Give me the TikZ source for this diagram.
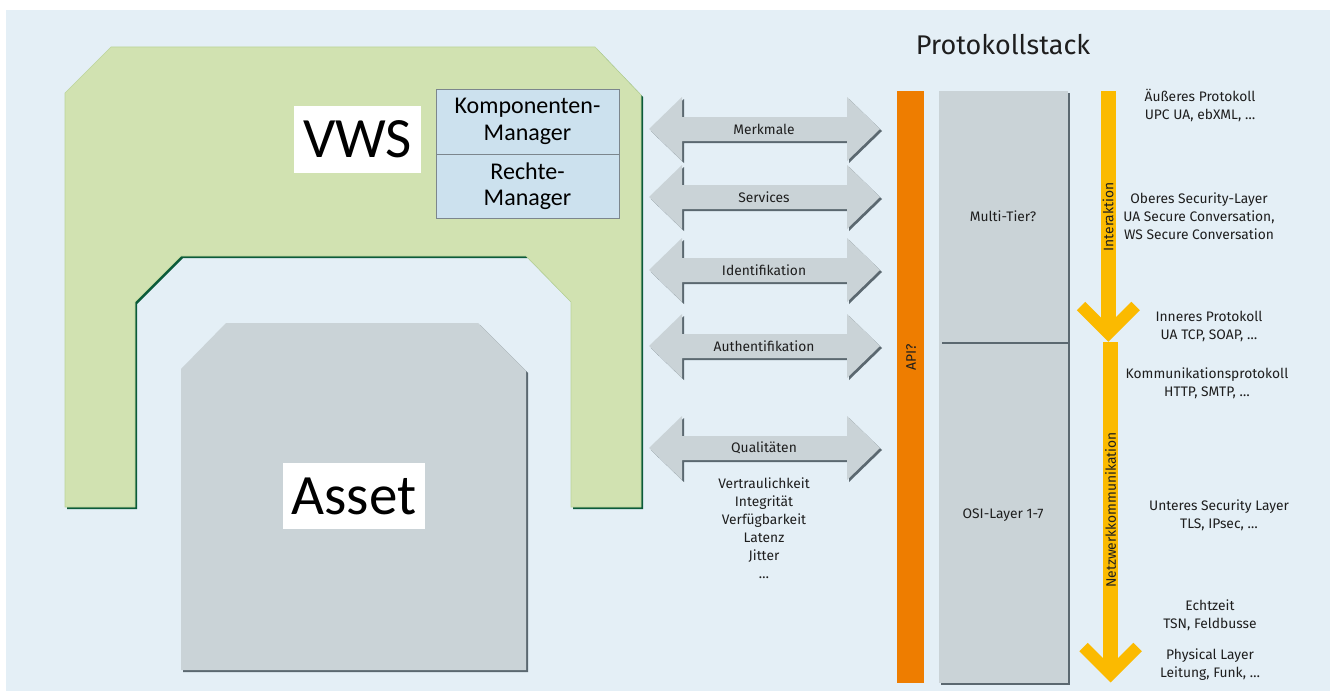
\documentclass[tikz,border=0pt]{standalone}
\usepackage{fontspec}
\setmainfont{Fira Sans}
\newfontfamily\calib{Carlito}
\definecolor{bgblue}{HTML}{E4EFF6}
\definecolor{lgreen}{HTML}{D1E2B1}
\definecolor{egreen}{HTML}{BCD59A}
\definecolor{dgreen}{HTML}{0B5B3A}
\definecolor{lgrey}{HTML}{CAD3D7}
\definecolor{dgrey}{HTML}{5B6870}
\definecolor{orng}{HTML}{EE7D00}
\definecolor{ylw}{HTML}{FBBA00}
\definecolor{boxblue}{HTML}{CCE1EE}
\definecolor{txt}{HTML}{1E1E1E}
\tikzset{
  lbl/.style={text=txt, inner sep=0pt, align=center, font=\fontsize{13.8}{18}\selectfont},
  bigtitle/.style={fill=white, text=black, inner sep=0pt, font=\calib\fontsize{57}{60}\selectfont},
  mgrbox/.style={draw=dgrey!80, line width=0.8pt, fill=boxblue, minimum width=183pt, inner sep=0pt, align=center, text=black, font=\calib\fontsize{24}{26.5}\selectfont},
  ychev/.style={ylw, line width=12pt, miter limit=10},
  ybar/.style={ylw, line width=15.5pt},
}
\newcommand{\dblarr}[3]{%
  \fill[dgrey, shift={(2,2)}] (649,#2) -- (682,#2-32) -- (682,#2-12) -- (847,#2-12) -- (847,#2-32) -- (880,#2) -- (847,#2+32) -- (847,#2+12) -- (682,#2+12) -- (682,#2+32) -- cycle;
  \fill[lgrey] (649,#2) -- (682,#2-32) -- (682,#2-12) -- (847,#2-12) -- (847,#2-32) -- (880,#2) -- (847,#2+32) -- (847,#2+12) -- (682,#2+12) -- (682,#2+32) -- cycle;
  \node[lbl] (#1) at (764,#2) {#3};
}
\begin{document}
\begin{tikzpicture}[x=1pt,y=-1pt]
\useasboundingbox (0,0) rectangle (1337,693);
\fill[white] (0,0) rectangle (1337,693);
\fill[bgblue] (6,10) rectangle (1330,691);

% VWS U-shape
\fill[dgreen, shift={(2,2)}] (111,47) -- (595,47) -- (641,95) -- (641,507) -- (571,507) -- (571,302) -- (526,256) -- (181,256) -- (135,302) -- (135,507) -- (65,507) -- (65,93) -- cycle;
\filldraw[fill=lgreen, draw=egreen, line width=0.6pt] (111,47) -- (595,47) -- (641,95) -- (641,507) -- (571,507) -- (571,302) -- (526,256) -- (181,256) -- (135,302) -- (135,507) -- (65,507) -- (65,93) -- cycle;

% Asset shape
\fill[dgrey, shift={(2,2)}] (226,323) -- (478,323) -- (526,371) -- (526,670) -- (181,670) -- (181,369) -- cycle;
\fill[lgrey] (226,323) -- (478,323) -- (526,371) -- (526,670) -- (181,670) -- (181,369) -- cycle;

\node[bigtitle, minimum width=127pt, minimum height=67pt] (vws) at (357.5,139.5) {VWS};
\node[bigtitle, minimum width=142pt, minimum height=66pt] (asset) at (354,496) {Asset};

\node[mgrbox, minimum height=65pt] (komp) at (527.5,121.5) {Komponenten-\\Manager};
\node[mgrbox, minimum height=64pt] (recht) at (527.5,186) {Rechte-\\Manager};

% double arrows
\dblarr{merk}{129}{Merkmale}
\dblarr{serv}{197}{Services}
\dblarr{ident}{270}{Identifikation}
\dblarr{auth}{346}{Authentifikation}
\dblarr{qual}{448}{Qualit\"aten}
\node[lbl] (quallist) at (764,528) {Vertraulichkeit\\Integrit\"at\\Verf\"ugbarkeit\\Latenz\\Jitter\\…};

% Protokollstack
\node[text=txt, inner sep=0pt, font=\fontsize{27}{30}\selectfont] (title) at (1003,45) {Protokollstack};
\fill[orng] (897,91) rectangle (924,683);
\node[lbl, rotate=90] (api) at (911,357) {API?};
\fill[dgrey] (941,93) rectangle (1070,685);
\fill[lgrey] (939,91) rectangle (1068,683);
\draw[dgrey, line width=2pt] (942,343) -- (1068,343);
\node[lbl] (multi) at (1003,216) {Multi-Tier?};
\node[lbl] (osi) at (1003,515) {OSI-Layer 1-7};

% yellow arrows
\draw[ybar] (1108.3,91) -- (1108.3,333);
\draw[ychev] (1081,306) -- (1108.3,333.3) -- (1135.6,306);
\node[lbl, rotate=90] (inter) at (1108,217) {Interaktion};
\draw[ybar] (1110.5,342) -- (1110.5,673.5);
\draw[ychev] (1083.5,647) -- (1110.5,674) -- (1137.5,647);
\node[lbl, rotate=90] (netz) at (1110.5,510) {Netzwerkkommunikation};

% right-hand labels
\node[lbl] (l1) at (1200,105) {Äußeres Protokoll\\UPC UA, ebXML, …};
\node[lbl] (l2) at (1199,216) {Oberes Security-Layer\\UA Secure Conversation,\\WS Secure Conversation};
\node[lbl] (l3) at (1209,326) {Inneres Protokoll\\UA TCP, SOAP, …};
\node[lbl] (l4) at (1207,383) {Kommunikationsprotokoll\\HTTP, SMTP, …};
\node[lbl] (l5) at (1219,515) {Unteres Security Layer\\TLS, IPsec, …};
\node[lbl] (l6) at (1210,615) {Echtzeit\\TSN, Feldbusse};
\node[lbl] (l7) at (1210,665) {Physical Layer\\Leitung, Funk, …};
\end{tikzpicture}
\end{document}
